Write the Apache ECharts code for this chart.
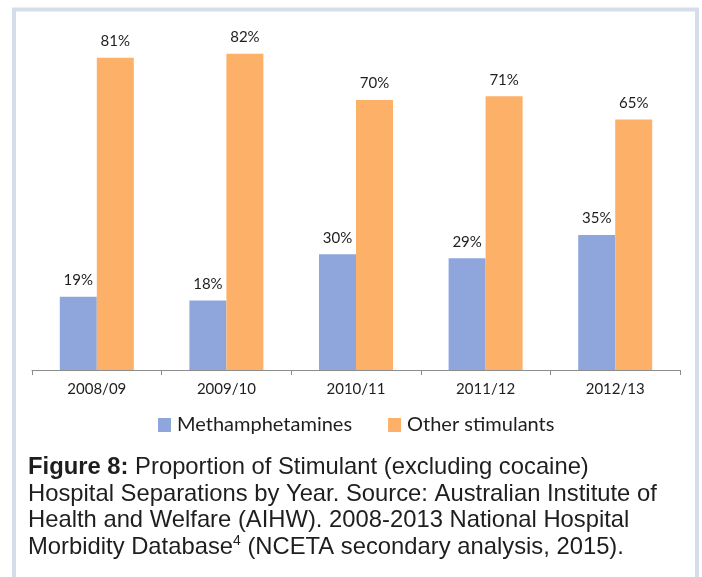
<!DOCTYPE html>
<html>
<head>
<meta charset="utf-8">
<script src="https://cdn.jsdelivr.net/npm/echarts@6/dist/echarts.min.js"></script>
<style>html,body{margin:0;padding:0;background:#fff;}#c{width:702px;height:577px;}</style>
</head>
<body>
<div id="c"></div>
<script>
const categories = ['2008/09', '2009/10', '2010/11', '2011/12', '2012/13'];
const methamphetamines = [19, 18, 30, 29, 35];
const otherStimulants = [81, 82, 70, 71, 65];
const seriesNames = ['Methamphetamines', 'Other stimulants'];
const captionLines = [
  '{b|Figure 8:} Proportion of Stimulant (excluding cocaine)',
  'Hospital Separations by Year. Source: Australian Institute of',
  'Health and Welfare (AIHW). 2008-2013 National Hospital',
  'Morbidity Database{sup|4} (NCETA secondary analysis, 2015).'
];

const chart = echarts.init(document.getElementById('c'), null, {renderer: 'canvas'});
const labelFont = 'Lato, "Open Sans", sans-serif';
const capFont = '"Liberation Sans", Arial, sans-serif';
const capSize = 23.8;
chart.setOption({
  backgroundColor: '#ffffff',
  animation: false,
  graphic: [{
    type: 'rect',
    shape: {x: 14, y: 9.5, width: 683, height: 600},
    style: {fill: 'none', stroke: '#d5ddeb', lineWidth: 4},
    silent: true
  }],
  title: {
    text: captionLines.join('\n'),
    left: 28,
    top: 454,
    padding: 0,
    textStyle: {
      fontFamily: capFont,
      fontSize: capSize,
      fontWeight: 'normal',
      color: '#1e1e1e',
      lineHeight: 26.7,
      rich: {
        b: {fontFamily: capFont, fontSize: capSize, fontWeight: 'bold', color: '#1e1e1e', lineHeight: 26.7},
        sup: {fontFamily: capFont, fontSize: 14, color: '#1e1e1e', lineHeight: 13, verticalAlign: 'top'}
      }
    }
  },
  legend: {
    data: seriesNames,
    top: 415,
    left: 158,
    padding: 0,
    itemWidth: 13,
    itemHeight: 14,
    itemGap: 36,
    icon: 'rect',
    textStyle: {fontFamily: labelFont, fontSize: 20, color: '#1e1e1e', padding: [0, 0, 0, 1]}
  },
  grid: {left: 32, right: 22, top: 23, bottom: 207, containLabel: false},
  xAxis: {
    type: 'category',
    data: categories,
    axisLine: {lineStyle: {color: '#8c8c8c', width: 1}},
    axisTick: {show: true, length: 5, lineStyle: {color: '#8c8c8c'}},
    axisLabel: {fontFamily: labelFont, fontSize: 15, color: '#1e1e1e', margin: 12}
  },
  yAxis: {
    type: 'value',
    min: 0,
    max: 90,
    show: false,
    splitLine: {show: false}
  },
  series: [{
    name: seriesNames[0],
    type: 'bar',
    data: methamphetamines,
    barWidth: 37,
    barGap: '0%',
    itemStyle: {color: '#8fa6dc'},
    label: {show: true, position: 'top', distance: 9, formatter: '{c}%', fontFamily: labelFont, fontSize: 15, color: '#1e1e1e'}
  }, {
    name: seriesNames[1],
    type: 'bar',
    data: otherStimulants,
    barWidth: 37,
    barGap: '0%',
    itemStyle: {color: '#fdb168'},
    label: {show: true, position: 'top', distance: 9, formatter: '{c}%', fontFamily: labelFont, fontSize: 15, color: '#1e1e1e'}
  }]
});
</script>
</body>
</html>
